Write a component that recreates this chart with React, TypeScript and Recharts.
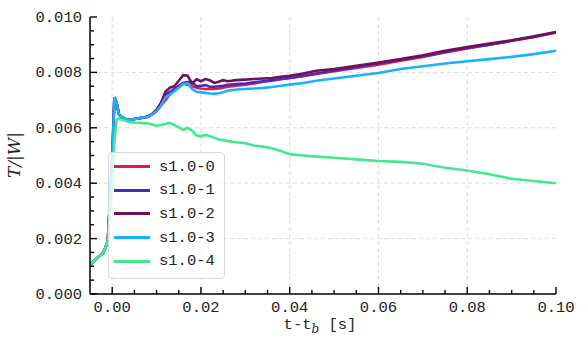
import { LineChart, Line, XAxis, YAxis, CartesianGrid, Legend } from 'recharts'

const times = [
  -0.005, -0.004, -0.003, -0.002, -0.001, 0.0, 0.0005, 0.001, 0.0015, 0.002,
  0.003, 0.004, 0.005, 0.006, 0.007, 0.008, 0.009, 0.010, 0.011, 0.012,
  0.013, 0.014, 0.015, 0.016, 0.017, 0.018, 0.019, 0.020, 0.021, 0.022,
  0.023, 0.024, 0.025, 0.026, 0.028, 0.030, 0.032, 0.034, 0.036, 0.038,
  0.040, 0.043, 0.046, 0.050, 0.055, 0.060, 0.065, 0.070, 0.075, 0.080,
  0.085, 0.090, 0.095, 0.100,
]

const s0 = [
  0.00105, 0.0012, 0.00135, 0.00148, 0.0019, 0.0048, 0.0071, 0.0069, 0.0065, 0.0064,
  0.00632, 0.00628, 0.00632, 0.00634, 0.00637, 0.0064, 0.00648, 0.0066, 0.0068, 0.007,
  0.0072, 0.0074, 0.00752, 0.0076, 0.00755, 0.0075, 0.00745, 0.00742, 0.0074, 0.0074,
  0.0074, 0.00742, 0.00745, 0.00748, 0.00752, 0.00756, 0.0076, 0.00766, 0.0077, 0.00775,
  0.0078, 0.00786, 0.00794, 0.00804, 0.00816, 0.00828, 0.00842, 0.00856, 0.00872, 0.00886,
  0.009, 0.00914, 0.00928, 0.00944,
]

const s1 = [
  0.00105, 0.0012, 0.00135, 0.00148, 0.0019, 0.0048, 0.0071, 0.0069, 0.0065, 0.0064,
  0.00632, 0.00628, 0.00632, 0.00634, 0.00637, 0.0064, 0.00648, 0.0066, 0.0069, 0.0072,
  0.0073, 0.0074, 0.0075, 0.00762, 0.00765, 0.00764, 0.0075, 0.00752, 0.00754, 0.00748,
  0.00748, 0.0075, 0.00752, 0.00755, 0.00758, 0.0076, 0.00764, 0.00768, 0.00772, 0.00776,
  0.0078, 0.00788, 0.00796, 0.00806, 0.0082, 0.00832, 0.00846, 0.00858, 0.00874, 0.00888,
  0.009, 0.00914, 0.00928, 0.00944,
]

const s2 = [
  0.00105, 0.0012, 0.00135, 0.00148, 0.0019, 0.0048, 0.0071, 0.0069, 0.0065, 0.0064,
  0.00632, 0.00628, 0.00632, 0.00634, 0.00637, 0.0064, 0.0065, 0.00665, 0.0069, 0.0073,
  0.00745, 0.0075, 0.0077, 0.0079, 0.00788, 0.0076, 0.00775, 0.00768, 0.00776, 0.00772,
  0.00762, 0.00766, 0.00772, 0.00768, 0.00772, 0.00774, 0.00776, 0.00778, 0.0078, 0.00784,
  0.00788, 0.00796, 0.00806, 0.00812, 0.00824, 0.00836, 0.00848, 0.00862, 0.00878, 0.00892,
  0.00904, 0.00916, 0.0093, 0.00946,
]

const s3 = [
  0.00105, 0.0012, 0.00135, 0.00148, 0.0019, 0.0048, 0.0071, 0.0069, 0.0065, 0.0064,
  0.00632, 0.00628, 0.00632, 0.00634, 0.00637, 0.0064, 0.00648, 0.0066, 0.0068, 0.0071,
  0.0072, 0.00732, 0.00745, 0.00758, 0.0076, 0.0074, 0.0073, 0.00728, 0.00726, 0.00724,
  0.00723, 0.00725, 0.00728, 0.00734, 0.00738, 0.0074, 0.00742, 0.00744, 0.00747, 0.00752,
  0.00756, 0.00762, 0.0077, 0.00778, 0.00788, 0.00798, 0.00812, 0.00822, 0.00832, 0.0084,
  0.00848, 0.00856, 0.00866, 0.00878,
]

const s4 = [
  0.00105, 0.0012, 0.00135, 0.00148, 0.0019, 0.004, 0.0055, 0.0063, 0.00634, 0.0063,
  0.00625, 0.0062, 0.00618, 0.00618, 0.00617, 0.00616, 0.00612, 0.00607, 0.0061, 0.00614,
  0.00618, 0.0061, 0.00602, 0.00592, 0.006, 0.0059, 0.00572, 0.0057, 0.00574, 0.0057,
  0.00564, 0.00558, 0.00555, 0.00552, 0.00548, 0.00544, 0.00536, 0.00532, 0.00526, 0.00516,
  0.00505, 0.005, 0.00496, 0.00492, 0.00486, 0.0048, 0.00477, 0.0047, 0.00456, 0.00446,
  0.00432, 0.00416, 0.00408, 0.004,
]

const seriesNames = ['s1.0-0', 's1.0-1', 's1.0-2', 's1.0-3', 's1.0-4']
const seriesValues = [s0, s1, s2, s3, s4]
const colors = ['#e8174c', '#4a2bb5', '#720f5c', '#17b2ff', '#44e88f']

const xMajor = [0, 0.02, 0.04, 0.06, 0.08, 0.1]
const xMinor = [0.005, 0.01, 0.015, 0.025, 0.03, 0.035, 0.045, 0.05, 0.055, 0.065, 0.07, 0.075, 0.085, 0.09, 0.095]
const xLabels = ['0.00', '0.02', '0.04', '0.06', '0.08', '0.10']
const yMajor = [0, 0.002, 0.004, 0.006, 0.008, 0.01]
const yMinor = [0.0005, 0.001, 0.0015, 0.0025, 0.003, 0.0035, 0.0045, 0.005, 0.0055, 0.0065, 0.007, 0.0075, 0.0085, 0.009, 0.0095]
const yLabels = ['0.000', '0.002', '0.004', '0.006', '0.008', '0.010']

const data = times.map((t, i) => {
  const row: Record<string, number> = { t }
  seriesNames.forEach((name, k) => {
    row[name] = seriesValues[k][i]
  })
  return row
})

const mono = '"Liberation Mono", "DejaVu Sans Mono", monospace'
const serif = '"DejaVu Serif", "Liberation Serif", serif'
const MAJOR = 7
const MINOR = 4

const majorIndex = (list: number[], v: number) => list.findIndex((m) => Math.abs(m - v) < 1e-9)

// inward ticks, matplotlib style; labels only on bottom/left
const makeTick = (side: 'bottom' | 'top' | 'left' | 'right') => (props: any) => {
  const { x, y, payload } = props
  const majors = side === 'bottom' || side === 'top' ? xMajor : yMajor
  const idx = majorIndex(majors, payload.value)
  const len = idx >= 0 ? MAJOR : MINOR
  let line
  if (side === 'bottom') line = <line x1={x} y1={y} x2={x} y2={y - len} stroke="#000" strokeWidth={1.4} />
  else if (side === 'top') line = <line x1={x} y1={y} x2={x} y2={y + len} stroke="#000" strokeWidth={1.4} />
  else if (side === 'left') line = <line x1={x} y1={y} x2={x + len} y2={y} stroke="#000" strokeWidth={1.4} />
  else line = <line x1={x} y1={y} x2={x - len} y2={y} stroke="#000" strokeWidth={1.4} />
  return (
    <g>
      {line}
      {idx >= 0 && side === 'bottom' && (
        <text x={x} y={y + 18} textAnchor="middle" fontFamily={mono} fontSize={15.5} fill="#222">
          {xLabels[idx]}
        </text>
      )}
      {idx >= 0 && side === 'left' && (
        <text x={x - 8} y={y + 5} textAnchor="end" fontFamily={mono} fontSize={15.5} fill="#222">
          {yLabels[idx]}
        </text>
      )}
    </g>
  )
}

const xTitle = () => (
  <text x={320} y={329} textAnchor="middle" fontFamily={mono} fontSize={15.5} fill="#222">
    t-t
    <tspan fontFamily={serif} fontStyle="italic" fontSize={12} dy={4}>b</tspan>
    <tspan dy={-4}> [s]</tspan>
  </text>
)

const yTitle = () => (
  <text
    x={14}
    y={155}
    transform="rotate(-90 14 155)"
    textAnchor="middle"
    dominantBaseline="central"
    fontFamily={serif}
    fontStyle="italic"
    fontSize={17}
    fill="#222"
  >
    T/|W|
  </text>
)

const LegendBox = () => (
  <div
    style={{
      border: '1px solid #d8d8d8',
      borderRadius: 4,
      background: 'rgba(255,255,255,0.8)',
      padding: '2px 8px 5px 5px',
      width: 102,
    }}
  >
    {seriesNames.map((name, k) => (
      <div key={name} style={{ display: 'flex', alignItems: 'center', height: 23.6 }}>
        <span style={{ display: 'inline-block', width: 36, height: 3, background: colors[k] }} />
        <span style={{ marginLeft: 9, fontFamily: mono, fontSize: 15.5, color: '#222' }}>{name}</span>
      </div>
    ))}
  </div>
)

export default function App() {
  return (
    <div style={{ position: 'absolute', left: 0, top: 0, background: '#fff' }}>
      <LineChart width={588} height={353} data={data} margin={{ top: 17, right: 32, bottom: 0, left: 0 }}>
        <CartesianGrid
          stroke="#dcdcdc"
          strokeDasharray="4 3"
          verticalValues={[0, 0.02, 0.04, 0.06, 0.08]}
          horizontalValues={[0.002, 0.004, 0.006, 0.008]}
        />
        <XAxis
          dataKey="t"
          type="number"
          domain={[-0.005, 0.1]}
          allowDataOverflow
          ticks={[...xMajor, ...xMinor]}
          interval={0}
          tickSize={0}
          tickMargin={0}
          tickLine={false}
          tick={makeTick('bottom')}
          axisLine={{ stroke: '#000', strokeWidth: 1.5 }}
          height={59}
          label={xTitle}
        />
        <XAxis
          xAxisId="top"
          orientation="top"
          dataKey="t"
          type="number"
          domain={[-0.005, 0.1]}
          allowDataOverflow
          ticks={[...xMajor, ...xMinor]}
          interval={0}
          tickSize={0}
          tickMargin={0}
          tickLine={false}
          tick={makeTick('top')}
          axisLine={{ stroke: '#000', strokeWidth: 1.5 }}
          height={0}
        />
        <YAxis
          type="number"
          domain={[0, 0.01]}
          allowDataOverflow
          ticks={[...yMajor, ...yMinor]}
          interval={0}
          tickSize={0}
          tickMargin={0}
          tickLine={false}
          tick={makeTick('left')}
          axisLine={{ stroke: '#000', strokeWidth: 1.5 }}
          width={90}
          label={yTitle}
        />
        <YAxis
          yAxisId="right"
          orientation="right"
          type="number"
          domain={[0, 0.01]}
          allowDataOverflow
          ticks={[...yMajor, ...yMinor]}
          interval={0}
          tickSize={0}
          tickMargin={0}
          tickLine={false}
          tick={makeTick('right')}
          axisLine={{ stroke: '#000', strokeWidth: 1.5 }}
          width={0}
        />
        <Legend
          content={<LegendBox />}
          layout="horizontal"
          verticalAlign="middle"
          align="center"
          wrapperStyle={{ left: 108, top: 152, width: 'auto' }}
        />
        {seriesNames.map((name, k) => {
          // last series uses the mirrored top/right axes (same domains) so those get drawn too
          const last = k === seriesNames.length - 1
          return (
            <Line
              key={name}
              type="linear"
              dataKey={name}
              xAxisId={last ? 'top' : 0}
              yAxisId={last ? 'right' : 0}
              stroke={colors[k]}
              strokeWidth={2.6}
              dot={false}
              isAnimationActive={false}
            />
          )
        })}
      </LineChart>
    </div>
  )
}
